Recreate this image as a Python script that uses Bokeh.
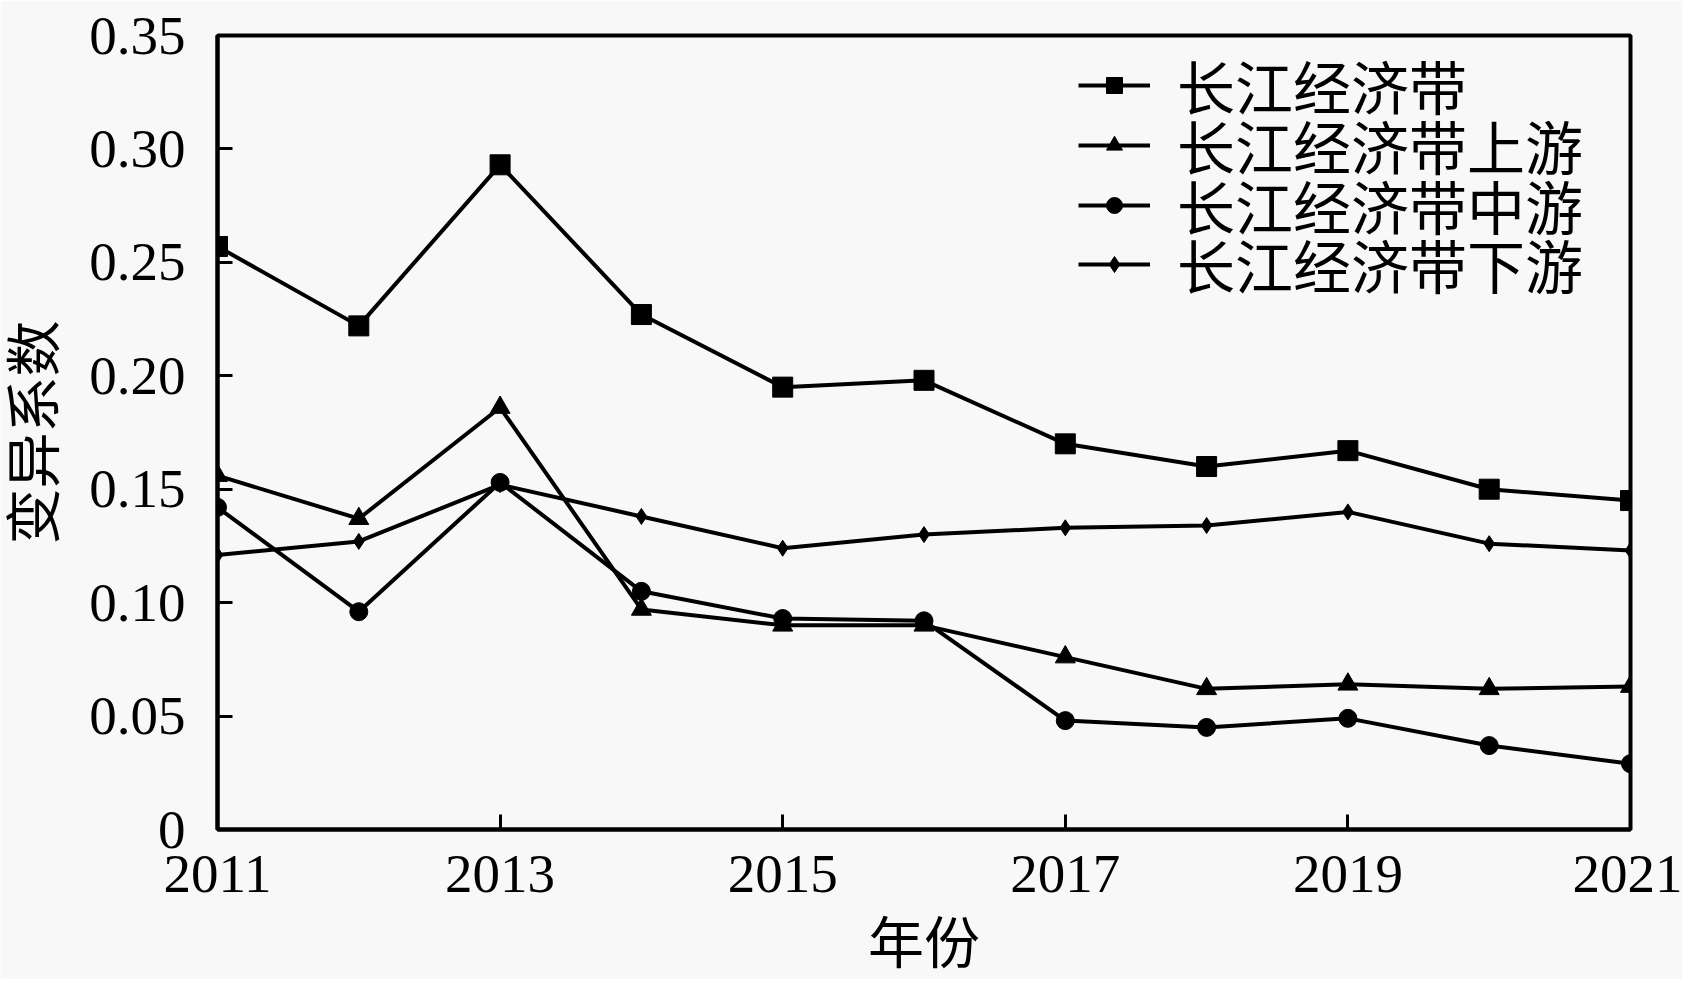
from bokeh.plotting import figure
from bokeh.models import Range1d, FixedTicker, Legend, LegendItem
from bokeh.embed import file_html
from bokeh.resources import INLINE

years = [2011, 2012, 2013, 2014, 2015, 2016, 2017, 2018, 2019, 2020, 2021]
whole = [0.257, 0.222, 0.293, 0.227, 0.195, 0.198, 0.170, 0.160, 0.167, 0.150, 0.145]
upper = [0.156, 0.137, 0.186, 0.097, 0.090, 0.090, 0.076, 0.062, 0.064, 0.062, 0.063]
middle = [0.142, 0.096, 0.153, 0.105, 0.093, 0.092, 0.048, 0.045, 0.049, 0.037, 0.029]
lower = [0.121, 0.127, 0.152, 0.138, 0.124, 0.130, 0.133, 0.134, 0.140, 0.126, 0.123]
series_names = ["长江经济带", "长江经济带上游", "长江经济带中游", "长江经济带下游"]
x_ticks = [2011, 2013, 2015, 2017, 2019, 2021]
y_ticks = [0, 0.05, 0.10, 0.15, 0.20, 0.25, 0.30, 0.35]
y_tick_labels = ["0", "0.05", "0.10", "0.15", "0.20", "0.25", "0.30", "0.35"]

BG = "#f8f8f8"
NUM_FONT = "'Liberation Serif', 'Noto Sans CJK SC'"

p = figure(width=1682, height=979, output_backend="svg", toolbar_location=None,
           x_range=Range1d(2011, 2021), y_range=Range1d(0, 0.35),
           min_border_left=217, min_border_top=35, min_border_right=52, min_border_bottom=150,
           background_fill_color=BG, border_fill_color=BG)
p.grid.visible = False
p.outline_line_color = "black"
p.outline_line_width = 4

for ax in (p.xaxis[0], p.yaxis[0]):
    ax.axis_line_width = 4
    ax.major_tick_line_width = 3
    ax.major_tick_in = 15
    ax.major_tick_out = 0
    ax.minor_tick_in = 0
    ax.minor_tick_out = 0
    ax.major_label_text_font = NUM_FONT
    ax.major_label_text_font_size = "55px"
    ax.major_label_text_color = "black"
    ax.axis_label_text_font = NUM_FONT
    ax.axis_label_text_font_size = "56px"
    ax.axis_label_text_font_style = "normal"
    ax.axis_label_text_color = "black"

p.xaxis.ticker = FixedTicker(ticks=x_ticks)
p.yaxis.ticker = FixedTicker(ticks=y_ticks)
p.yaxis.major_label_overrides = {t: l for t, l in zip(y_ticks, y_tick_labels)}
p.xaxis.major_label_standoff = 26
p.yaxis.major_label_standoff = 32
p.xaxis.axis_label = "年份"
p.yaxis.axis_label = "变异系数"
p.xaxis.axis_label_standoff = 18
p.yaxis.axis_label_standoff = 20

markers = ["square", "triangle", "circle", "diamond"]
sizes = [20, 20, 18, 16]
data = [whole, upper, middle, lower]
legend_y = [702, 642, 582, 523]
for name, vals, mk, sz, ly in zip(series_names, data, markers, sizes, legend_y):
    r1 = p.line(years, vals, line_color="black", line_width=4)
    r2 = p.scatter(years, vals, marker=mk, size=sz, fill_color="black", line_color="black")
    lg = Legend(items=[LegendItem(label=name, renderers=[r1, r2])],
                location=(861, ly), orientation="vertical",
                background_fill_alpha=0, border_line_alpha=0,
                padding=0, margin=0, spacing=0,
                glyph_width=72, glyph_height=40, label_standoff=27,
                label_text_font=NUM_FONT, label_text_font_size="58px",
                label_text_color="black")
    p.add_layout(lg)

open("out.html", "w").write(file_html(p, INLINE))
